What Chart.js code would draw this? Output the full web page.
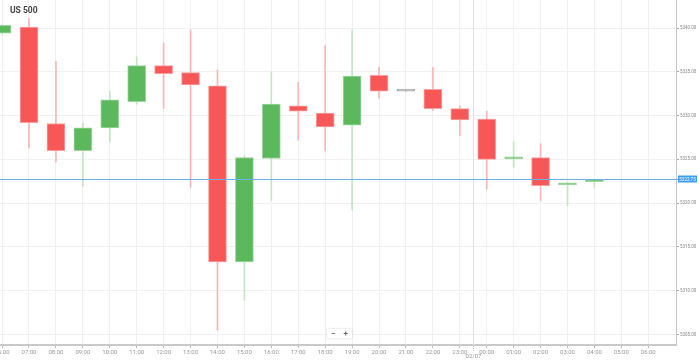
<!DOCTYPE html>
<html>
<head>
<meta charset="utf-8">
<script src="https://cdn.jsdelivr.net/npm/chart.js@4/dist/chart.umd.min.js"></script>
<style>
  html, body { margin: 0; padding: 0; background: #fff; overflow: hidden; }
  #wrap { position: relative; width: 699px; height: 361px; }
  #title { position: absolute; left: 10px; top: 5px; font: bold 8.5px Roboto, sans-serif; color: #444; }
  #zoomBox { position: absolute; left: 327px; top: 329px; width: 25px; height: 9px; background: #fff;
    box-shadow: 0 0 2px rgba(0,0,0,0.18); font: bold 8px Roboto, sans-serif; color: #666;
    display: flex; justify-content: space-around; align-items: center; line-height: 9px; }
</style>
</head>
<body>
<div id="wrap">
  <canvas id="chart" width="699" height="361"></canvas>
  <div id="title">US 500</div>
  <div id="zoomBox"><span>−</span><span>+</span></div>
</div>
<script>
// hourly candles, hour index 0 = 06:00 (02/06)
const candleHours = [0, 1, 2, 3, 4, 5, 6, 7, 8, 9, 10, 11, 12, 13, 14, 15, 16, 17, 18, 19, 20, 21, 22];
const opens  = [5339.4, 5340.1, 5329.1, 5326.0, 5328.6, 5331.6, 5335.7, 5334.9, 5333.4, 5313.3, 5325.1, 5331.1, 5330.3, 5328.9, 5334.6, 5332.8, 5333.0, 5330.8, 5329.6, 5325.05, 5325.2, 5322.1, 5322.45];
const highs  = [5340.4, 5341.1, 5336.2, 5329.2, 5332.8, 5336.7, 5338.3, 5339.8, 5335.2, 5325.4, 5335.0, 5333.8, 5338.0, 5339.8, 5335.5, 5332.8, 5335.5, 5331.1, 5330.5, 5327.0, 5326.8, 5322.4, 5322.7];
const lows   = [5339.3, 5326.3, 5324.7, 5321.9, 5327.0, 5331.3, 5330.8, 5321.8, 5305.5, 5308.9, 5320.3, 5327.2, 5326.0, 5319.2, 5332.0, 5332.8, 5330.6, 5327.7, 5321.6, 5324.1, 5320.3, 5319.7, 5321.8];
const closes = [5340.3, 5329.2, 5326.0, 5328.6, 5331.8, 5335.7, 5334.8, 5333.5, 5313.3, 5325.2, 5331.3, 5330.5, 5328.7, 5334.5, 5332.8, 5332.8, 5330.8, 5329.5, 5325.0, 5325.2, 5322.0, 5322.25, 5322.7];
const currentPrice = 5322.75;

const tickHours = [0, 1, 2, 3, 4, 5, 6, 7, 8, 9, 10, 11, 12, 13, 14, 15, 16, 17, 18, 19, 20, 21, 22, 23, 24];
const tickLabels = ['06:00', '07:00', '08:00', '09:00', '10:00', '11:00', '12:00', '13:00', '14:00', '15:00', '16:00', '17:00',
  '18:00', '19:00', '20:00', '21:00', '22:00', '23:00', '00:00', '01:00', '02:00', '03:00', '04:00', '05:00', '06:00'];
const priceTicks = [5305, 5310, 5315, 5320, 5325, 5330, 5335, 5340];
const dayBreakHour = 17.5;
const dayBreakLabel = '02/07';

function candleColor(index, up, down, flat) {
  if (closes[index] > opens[index]) return up;
  if (closes[index] < opens[index]) return down;
  return flat;
}

const dayBreakPlugin = {
  id: 'dayBreak',
  beforeDatasetsDraw(chart) {
    const ctx = chart.ctx;
    const area = chart.chartArea;
    const x = Math.round(chart.scales.x.getPixelForValue(dayBreakHour)) + 0.5;
    ctx.save();
    ctx.strokeStyle = '#e2e2e2';
    ctx.lineWidth = 1;
    ctx.beginPath();
    ctx.moveTo(x, area.top);
    ctx.lineTo(x, area.bottom);
    ctx.stroke();
    ctx.strokeStyle = '#bbb';
    ctx.setLineDash([1, 1]);
    ctx.beginPath();
    ctx.moveTo(x, area.bottom + 1);
    ctx.lineTo(x, area.bottom + 7);
    ctx.stroke();
    ctx.setLineDash([]);
    ctx.fillStyle = '#999';
    ctx.font = '6px Roboto';
    ctx.textAlign = 'center';
    ctx.textBaseline = 'middle';
    ctx.fillText(dayBreakLabel, x, area.bottom + 11);
    ctx.restore();
  }
};

const priceLinePlugin = {
  id: 'priceLine',
  afterDatasetsDraw(chart) {
    const ctx = chart.ctx;
    const area = chart.chartArea;
    const y = Math.round(chart.scales.y.getPixelForValue(currentPrice)) + 0.5;
    ctx.save();
    ctx.strokeStyle = '#6ab2ea';
    ctx.lineWidth = 1;
    ctx.beginPath();
    ctx.moveTo(area.left, y);
    ctx.lineTo(area.right + 2, y);
    ctx.stroke();
    ctx.fillStyle = '#3f9ff0';
    ctx.fillRect(area.right + 2, y - 4, 19, 7);
    ctx.fillStyle = '#fff';
    ctx.font = '4.5px Roboto';
    ctx.textAlign = 'center';
    ctx.textBaseline = 'middle';
    ctx.fillText(currentPrice.toFixed(2), area.right + 11.5, y);
    ctx.restore();
  }
};

new Chart(document.getElementById('chart'), {
  type: 'bar',
  data: {
    datasets: [
      {
        label: 'body',
        order: 0,
        grouped: false,
        barThickness: 18,
        minBarLength: 2,
        borderWidth: 1,
        borderSkipped: false,
        data: candleHours.map((h, i) => ({ x: h, y: [opens[i], closes[i]] })),
        backgroundColor: (c) => candleColor(c.dataIndex, '#5cb85c', '#f75757', '#aaaaaa'),
        borderColor: (c) => candleColor(c.dataIndex, '#9fd69f', '#fa9f9f', '#aaaaaa')
      },
      {
        label: 'wick',
        order: 1,
        grouped: false,
        barThickness: 1,
        borderWidth: 0,
        data: candleHours.map((h, i) => ({ x: h, y: [lows[i], highs[i]] })),
        backgroundColor: (c) => candleColor(c.dataIndex, '#c2e6c2', '#f9b5b5', '#aaaaaa')
      }
    ]
  },
  options: {
    responsive: false,
    animation: false,
    layout: { padding: 0 },
    plugins: { legend: { display: false }, tooltip: { enabled: false } },
    scales: {
      x: {
        type: 'linear',
        offset: false,
        min: -0.077,
        max: 25.03,
        afterBuildTicks: (scale) => { scale.ticks = tickHours.map((v) => ({ value: v })); },
        afterFit: (scale) => { scale.height = 16; scale.paddingLeft = 0; scale.paddingRight = 0; },
        grid: { offset: false, color: '#f1f1f1', tickColor: '#bbb', tickLength: 3 },
        border: { color: '#c9c9c9', width: 2 },
        ticks: {
          autoSkip: false,
          maxRotation: 0,
          padding: 1,
          color: '#999',
          font: { family: 'Roboto', size: 6 },
          callback: (value, index) => tickLabels[index]
        }
      },
      y: {
        type: 'linear',
        position: 'right',
        min: 5303.8,
        max: 5343.2,
        afterBuildTicks: (scale) => { scale.ticks = priceTicks.map((v) => ({ value: v })); },
        afterFit: (scale) => { scale.width = 23; scale.paddingTop = 0; scale.paddingBottom = 0; },
        grid: { color: '#f1f1f1', tickColor: '#aaa', tickLength: 3 },
        border: { color: '#c9c9c9', width: 1 },
        ticks: {
          padding: 1,
          color: '#888',
          font: { family: 'Roboto', size: 4.5 },
          callback: (value) => value.toFixed(2)
        }
      }
    }
  },
  plugins: [dayBreakPlugin, priceLinePlugin]
});
</script>
</body>
</html>
